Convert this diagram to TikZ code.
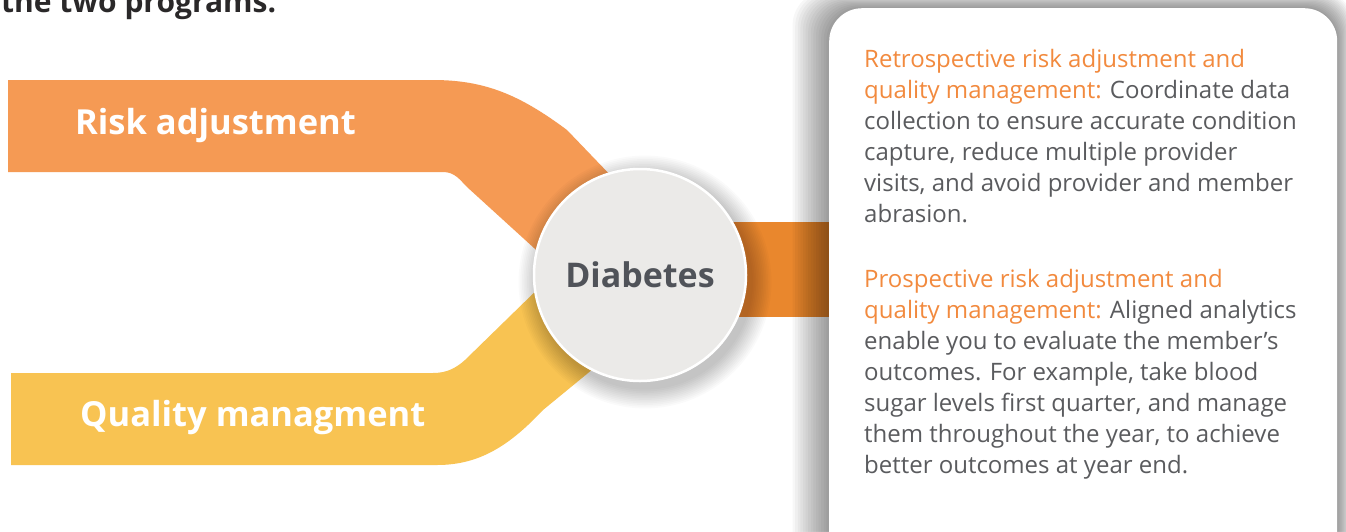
\documentclass[tikz,border=0pt]{standalone}
\usepackage{fontspec}
\setmainfont{Open Sans}
\definecolor{riskc}{HTML}{F59A54}
\definecolor{qualc}{HTML}{F8C352}
\definecolor{linkc}{HTML}{E9872D}
\definecolor{circc}{HTML}{EBEAE8}
\definecolor{diac}{HTML}{505359}
\definecolor{bodyc}{HTML}{5A5B5E}
\definecolor{headc}{HTML}{F28A3E}
\definecolor{titlec}{HTML}{2A2829}
\newcommand{\hd}[1]{\textcolor{headc}{#1}}
\tikzset{
  bandlabel/.style={text=white, font=\fontsize{34.5}{40}\selectfont\bfseries, anchor=base west, inner sep=0pt},
  ptext/.style={text=bodyc, font=\fontsize{24}{31}\selectfont, anchor=base west, inner sep=0pt},
  hub/.style={circle, fill=circc, draw=white, line width=2.5pt, minimum size=212pt, inner sep=0pt,
    text=diac, font=\fontsize{34}{40}\selectfont\bfseries},
  panelbox/.style={rectangle, fill=white, rounded corners=33pt, minimum width=508pt, minimum height=560pt,
    anchor=north west, inner sep=0pt},
  softshade/.style={fill=black, opacity=0.03},
  lightshade/.style={fill=black, opacity=0.018}
}
\begin{document}
\begin{tikzpicture}[x=1pt,y=-1pt]
\useasboundingbox (0,0) rectangle (1346,531);
\clip (0,0) rectangle (1346,531);
\fill[white] (0,0) rectangle (1346,531);

% title (cut off at top, as in the reference)
\node[anchor=base west, inner sep=0pt, font=\fontsize{30}{36}\selectfont\bfseries, text=titlec] (title) at (1,12) {the two programs.};

% orange band
\fill[riskc] (8,80) -- (433,80) .. controls (485,80) and (520,95) .. (567,130) -- (615,180) -- (640,275)
  -- (545,258) -- (467,187) .. controls (460,180) and (455,172) .. (443,172) -- (8,172) -- cycle;
% yellow band
\fill[qualc] (11,373) -- (433,373) .. controls (447,373) and (456,368) .. (465,360) -- (545,282) -- (640,275)
  -- (610,355) -- (543,410) .. controls (510,445) and (480,465) .. (437,465) -- (11,465) -- cycle;

\node[bandlabel] (risk) at (75,134) {Risk adjustment};
\node[bandlabel] (qual) at (80,426) {Quality managment};

% link to panel
\fill[linkc] (700,222) rectangle (840,317);

% hub shadow
\foreach \i in {1,...,12}
  \fill[lightshade] (645,282) circle ({106+1.7*\i});
% hub
\node[hub] (dia) at (640,275) {Diabetes};

% panel shadow
\foreach \i in {1,...,14}
  \fill[softshade, rounded corners=34pt] ({829-2.6*\i},{8-1.2*\i}) rectangle ({1337+1.2*\i},600);
% panel
\node[panelbox] (panel) at (829,8) {};

\node[ptext] (p1) at (864,67) {\hd{Retrospective risk adjustment and}};
\node[ptext] (p2) at (864,98) {\hd{quality management:} Coordinate data};
\node[ptext] (p3) at (864,129) {collection to ensure accurate condition};
\node[ptext] (p4) at (864,160) {capture, reduce multiple provider};
\node[ptext] (p5) at (864,191) {visits, and avoid provider and member};
\node[ptext] (p6) at (864,222) {abrasion.};

\node[ptext] (q1) at (864,287) {\hd{Prospective risk adjustment and}};
\node[ptext] (q2) at (864,318) {\hd{quality management:} Aligned analytics};
\node[ptext] (q3) at (864,349) {enable you to evaluate the member’s};
\node[ptext] (q4) at (864,380) {outcomes. For example, take blood};
\node[ptext] (q5) at (864,411) {sugar levels first quarter, and manage};
\node[ptext] (q6) at (864,442) {them throughout the year, to achieve};
\node[ptext] (q7) at (864,473) {better outcomes at year end.};
\end{tikzpicture}
\end{document}
